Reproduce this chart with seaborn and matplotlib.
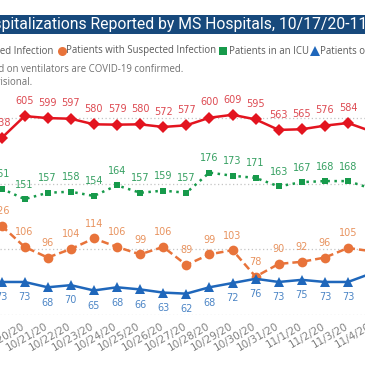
import matplotlib
matplotlib.use("Agg")
import matplotlib.pyplot as plt
import numpy as np
import pandas as pd
import seaborn as sns
from matplotlib.lines import Line2D
from matplotlib.patches import Rectangle
from matplotlib.transforms import ScaledTranslation

# ---------------- data ----------------
dates = ["10/20/20", "10/21/20", "10/22/20", "10/23/20", "10/24/20", "10/25/20",
         "10/26/20", "10/27/20", "10/28/20", "10/29/20", "10/30/20", "10/31/20",
         "11/1/20", "11/2/20", "11/3/20", "11/4/20", "11/5/20"]
confirmed = [538, 605, 599, 597, 580, 579, 580, 572, 577, 600, 609, 595, 563, 565, 576, 584, 559]
suspected = [126, 106, 96, 104, 114, 106, 99, 106, 89, 99, 103, 78, 90, 92, 96, 105, 102]
icu = [161, 151, 157, 158, 154, 164, 157, 159, 157, 176, 173, 171, 163, 167, 168, 168, 161]
vent = [73, 73, 68, 70, 65, 68, 66, 63, 62, 68, 72, 76, 73, 75, 73, 73, 81]

title = "COVID-19 Hospitalizations Reported by MS Hospitals, 10/17/20-11/5/20"
legend_labels = ["Patients with Confirmed Infection", "Patients with Suspected Infection",
                 "Patients in an ICU", "Patients on Ventilators"]
note1 = "Patients in the ICU and on ventilators are COVID-19 confirmed."
note2 = "Data for the most recent days are provisional."

RED, RED_T = "#e3141f", "#dd4a52"
ORANGE, ORANGE_T = "#e8733a", "#e8935f"
GREEN, GREEN_T = "#179a4b", "#36a062"
BLUE, BLUE_T = "#1f67bb", "#4d86c6"

sns.set_theme(style="white")
NARROW = ["Liberation Sans Narrow", "DejaVu Sans"]
plt.rcParams["font.family"] = NARROW

df = pd.DataFrame({"pos": np.arange(len(dates)), "date": dates, "confirmed": confirmed,
                   "suspected": suspected, "icu": icu, "vent": vent})

W = H = 365
fig = plt.figure(figsize=(3.65, 3.65), dpi=100)
fig.patch.set_facecolor("white")

def fy(py):
    return (H - py) / H

ax_bottom_px, ax_top_px = 315, 52
ax = fig.add_axes([0, fy(ax_bottom_px), 1, (ax_bottom_px - ax_top_px) / H])
ax2 = ax.twinx()

sns.lineplot(data=df, x="pos", y="confirmed", ax=ax, color=RED, marker="D",
             markersize=6.5, markeredgewidth=0, linewidth=1.8)
sns.lineplot(data=df, x="pos", y="suspected", ax=ax2, color=ORANGE, marker="o",
             markersize=7, markeredgewidth=0, linewidth=1.8, linestyle=(0, (3, 1.6)))
sns.lineplot(data=df, x="pos", y="icu", ax=ax2, color=GREEN, marker="s",
             markersize=5, markeredgewidth=0, linewidth=1.8, linestyle=(0, (1, 1.8)))
sns.lineplot(data=df, x="pos", y="vent", ax=ax2, color=BLUE, marker="^",
             markersize=6.5, markeredgewidth=0, linewidth=1.8)

sp = 23.1
x0 = 1.5
xmax = (W - x0) / sp
ax.set_xlim(-x0 / sp, xmax)
ax.set_ylim(0, 800)
ax2.set_ylim((359.5 - ax_bottom_px) / 1.062, (359.5 - ax_top_px) / 1.062)

for a in (ax, ax2):
    for s in a.spines.values():
        s.set_visible(False)
    a.set_xlabel("")
    a.set_ylabel("")
ax.set_yticks([0, 200, 400, 600])
ax.tick_params(axis="y", left=False, labelleft=False)
ax2.set_yticks([])
ax.grid(False)
ax.yaxis.grid(True, linestyle=(0, (1, 2)), color="#c4c4c4", linewidth=0.9)
ax2.grid(False)

vis = df[df["pos"] < xmax]
ax.set_xticks(vis["pos"])
ax.set_xticklabels(vis["date"], rotation=30, ha="right", va="top", rotation_mode="anchor",
                   fontsize=7.5, color="#808080")
ax.tick_params(axis="x", bottom=False, pad=0)
off = ScaledTranslation(20 / 100, 2 / 100, fig.dpi_scale_trans)
for lab in ax.get_xticklabels():
    lab.set_transform(lab.get_transform() + off)

def labels(a, col, color, dy):
    for p, v in zip(vis["pos"], vis[col]):
        a.annotate(str(v), (p, v), xytext=(0, dy), textcoords="offset points",
                   ha="center", va="center", fontsize=7, color=color)

labels(ax, "confirmed", RED_T, 11)
labels(ax2, "suspected", ORANGE_T, 10.5)
labels(ax2, "icu", GREEN_T, 10.5)
labels(ax2, "vent", BLUE_T, -11)

# ---------------- header ----------------
renderer = fig.canvas.get_renderer()

def width(s, size, family):
    t = fig.text(0, 0, s, fontsize=size, family=family)
    w = t.get_window_extent(renderer).width
    t.remove()
    return w

fig.patches.append(Rectangle((0, fy(34)), 1, 19 / H, transform=fig.transFigure,
                             facecolor="#17497c", edgecolor="none", zorder=0))
TFAM = ["Roboto", "DejaVu Sans"]
vis_title = "pitalizations Reported by MS Hospitals, 10/17/20-11"
tsize = 10 * 366 / width(vis_title, 10, TFAM)
pre = width("COVID-19 Hos", tsize, TFAM)
fig.text((1 - pre) / W, fy(25), title, fontsize=tsize, family=TFAM, color="white",
         ha="left", va="center")

LFAM = ["Open Sans", "DejaVu Sans"]
lsize = 10 * 149 / width(legend_labels[1], 10, LFAM)
ly = fy(51)
fig.text(53 / W, ly, legend_labels[0], fontsize=lsize, family=LFAM, color="#5a5a5a",
         ha="right", va="center")
items = [(62, 66, "o", ORANGE, 6.5, legend_labels[1]),
         (223, 229, "s", GREEN, 6, legend_labels[2]),
         (315, 320, "^", BLUE, 6.5, legend_labels[3])]
for mx, tx, m, c, ms, lab in items:
    fig.add_artist(Line2D([mx / W], [ly], marker=m, color=c, markersize=ms,
                          markeredgewidth=0, linestyle="none", transform=fig.transFigure))
    fig.text(tx / W, ly, lab, fontsize=lsize, family=LFAM, color="#5a5a5a",
             ha="left", va="center")

fig.text(183 / W, fy(69), note1, fontsize=lsize, family=LFAM, color="#707070",
         ha="right", va="center")
fig.text(32 / W, fy(82), note2, fontsize=lsize, family=LFAM, color="#707070",
         ha="right", va="center")

fig.savefig("out.png", dpi=100, facecolor="white")
